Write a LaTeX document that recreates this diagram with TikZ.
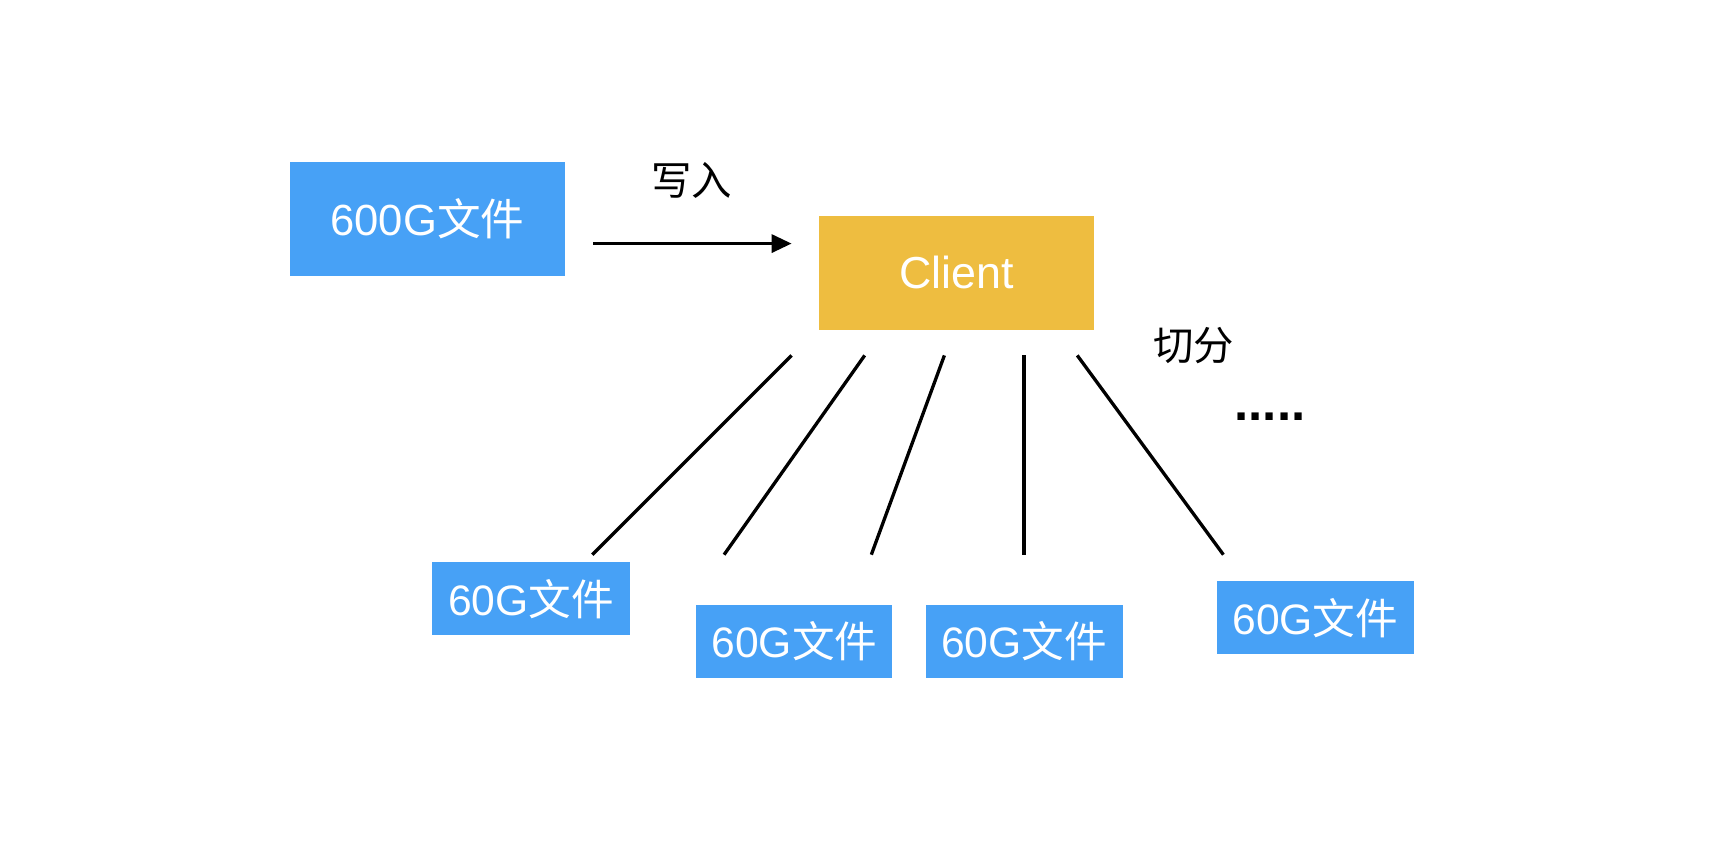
\documentclass[tikz,border=0pt]{standalone}
\usepackage{fontspec}
\setmainfont{Liberation Sans}
\newfontfamily\cjk{Noto Sans CJK SC}
\usetikzlibrary{arrows.meta}
\definecolor{fileblue}{HTML}{47A1F6}
\definecolor{clientgold}{HTML}{EEBD40}
\begin{document}
\begin{tikzpicture}[x=0.5535pt,y=-0.5535pt,
  filebox/.style={fill=fileblue,text=white,inner sep=0pt,minimum width=#1,minimum height=36.5pt,font=\fontsize{21.3}{23}\selectfont},
  conn/.style={line width=1.66pt},
  lbl/.style={font=\cjk\fontsize{20.2}{22}\selectfont,inner sep=0pt}]
\useasboundingbox (0,0) rectangle (1568,762);
\node[fill=fileblue,text=white,inner sep=0pt,minimum width=137.3pt,minimum height=57pt,font=\fontsize{21.8}{24}\selectfont] (big) at (386,197.5) {600G{\cjk 文件}};
\node[fill=clientgold,text=white,inner sep=0pt,minimum width=137.3pt,minimum height=57pt,font=\fontsize{22.4}{24}\selectfont] (client) at (864,246.5) {Client};
\node[lbl] (write) at (625,163) {写入};
\node[lbl] (split) at (1078,312) {切分};
\node[font=\bfseries\fontsize{25.5}{26}\selectfont,inner sep=0pt] (dots) at (1147,376) {.....};
\node[filebox=99pt] (s1) at (479.5,541) {60G{\cjk 文件}};
\node[filebox=98pt] (s2) at (717.5,579) {60G{\cjk 文件}};
\node[filebox=98.5pt] (s3) at (925,579) {60G{\cjk 文件}};
\node[filebox=98.5pt] (s4) at (1188,558) {60G{\cjk 文件}};
\coordinate (a0) at (536,220);
\coordinate (a1) at (715,220);
\draw[conn,-{Triangle[length=10pt,width=9pt]}] (a0) -- (a1);
\coordinate (t1) at (715,321); \coordinate (b1) at (535,501);
\coordinate (t2) at (781,321); \coordinate (b2) at (654,501);
\coordinate (t3) at (853,321); \coordinate (b3) at (787,501);
\coordinate (t4) at (925,321); \coordinate (b4) at (925,501);
\coordinate (t5) at (973,321); \coordinate (b5) at (1105,501);
\draw[conn] (t1) -- (b1);
\draw[conn] (t2) -- (b2);
\draw[conn] (t3) -- (b3);
\draw[conn] (t4) -- (b4);
\draw[conn] (t5) -- (b5);
\end{tikzpicture}
\end{document}
